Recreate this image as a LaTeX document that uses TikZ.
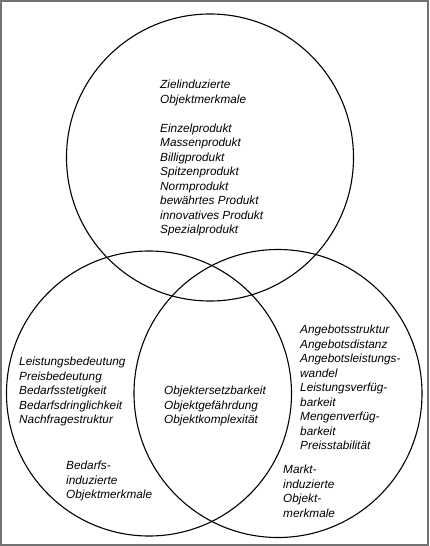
\documentclass[tikz,border=0pt]{standalone}
\usepackage{fontspec}
\setmainfont{Liberation Sans}
\usetikzlibrary{positioning}

\begin{document}
\begin{tikzpicture}[
    x=1pt, y=-1pt,
    ring/.style={draw=black, line width=1.1pt},
    merkmal/.style={anchor=north west, inner sep=0pt, align=left,
        font=\itshape\fontsize{11.8}{14.5}\selectfont}
]
\useasboundingbox (0,0) rectangle (429,546);
\draw[draw=black!55, line width=2pt] (1,1) rectangle (428,545);

% the three circles
\draw[ring] (210,157.5) circle[radius=143.5];
\draw[ring] (149,393.5) circle[radius=142.5];
\draw[ring] (278,393.5) circle[radius=144];

\node[merkmal] (ziel) at (160,80) {Zielinduzierte\\Objektmerkmale\\[14.5pt]
    Einzelprodukt\\Massenprodukt\\Billigprodukt\\Spitzenprodukt\\Normprodukt\\
    bewährtes Produkt\\innovatives Produkt\\Spezialprodukt};
\node[merkmal] (leistung) at (19,357) {Leistungsbedeutung\\Preisbedeutung\\
    Bedarfsstetigkeit\\Bedarfsdringlichkeit\\Nachfragestruktur};
\node[merkmal] (bedarf) at (66,461) {Bedarfs-\\induzierte\\Objektmerkmale};
\node[merkmal] (objekt) at (164,386) {Objektersetzbarkeit\\Objektgefährdung\\
    Objektkomplexität};
\node[merkmal] (angebot) at (300,325) {Angebotsstruktur\\Angebotsdistanz\\
    Angebotsleistungs-\\wandel\\Leistungsverfüg-\\barkeit\\Mengenverfüg-\\
    barkeit\\Preisstabilität};
\node[merkmal] (markt) at (283,465) {Markt-\\induzierte\\Objekt-\\merkmale};
\end{tikzpicture}
\end{document}
